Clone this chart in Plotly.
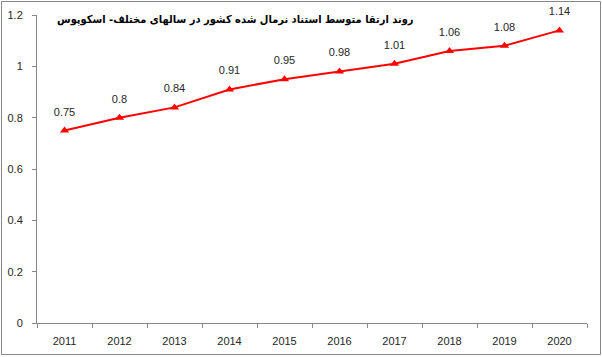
import plotly.graph_objects as go

years = ["2011", "2012", "2013", "2014", "2015", "2016", "2017", "2018", "2019", "2020"]
values = [0.75, 0.8, 0.84, 0.91, 0.95, 0.98, 1.01, 1.06, 1.08, 1.14]
labels = ["0.75", "0.8", "0.84", "0.91", "0.95", "0.98", "1.01", "1.06", "1.08", "1.14"]
title_text = "روند ارتقا متوسط استناد نرمال شده کشور در سالهای مختلف- اسکوپوس"

W, H = 602, 357
L, R, T, B = 37, 15, 15, 34
pw, ph = W - L - R, H - T - B

fig = go.Figure()
fig.add_trace(go.Scatter(
    x=years, y=values, mode="lines+markers",
    line=dict(color="#FF0000", width=2),
    marker=dict(symbol="triangle-up", size=8, color="#FF0000"),
    cliponaxis=False, showlegend=False, hoverinfo="skip",
))
fig.add_trace(go.Scatter(
    x=years, y=values, mode="markers+text",
    text=labels, textposition="top center",
    textfont=dict(family="Liberation Sans, Arial", size=11, color="#262626"),
    marker=dict(size=18, color="rgba(0,0,0,0)"),
    cliponaxis=False, showlegend=False, hoverinfo="skip",
))

fig.update_layout(
    width=W, height=H,
    margin=dict(l=L, r=R, t=T, b=B),
    paper_bgcolor="white", plot_bgcolor="white",
    font=dict(family="Liberation Sans, Arial", size=11, color="#262626"),
    xaxis=dict(type="category", range=[-0.5, 9.5], showgrid=False,
               showline=True, linecolor="#868686", linewidth=1,
               ticks="outside", ticklen=4, tickcolor="#868686",
               tickson="boundaries", zeroline=False, automargin=False,
               ticklabelstandoff=8),
    yaxis=dict(range=[0, 1.2], tickvals=[0, 0.2, 0.4, 0.6, 0.8, 1, 1.2],
               ticktext=["0", "0.2", "0.4", "0.6", "0.8", "1", "1.2"],
               showgrid=False, showline=True, linecolor="#868686", linewidth=1,
               ticks="outside", ticklen=4, tickcolor="#868686", zeroline=False,
               automargin=False, ticklabelstandoff=7),
)

fig.add_annotation(
    text="<b>" + title_text + "</b>", xref="paper", yref="paper",
    x=(235 - L) / pw, y=(H - B - 19) / ph, showarrow=False,
    font=dict(family="DejaVu Sans Condensed, DejaVu Sans", size=11, color="#000000"),
    xanchor="center", yanchor="middle",
)

fig.add_shape(
    type="rect", xref="paper", yref="paper",
    x0=(1.5 - L) / pw, x1=(W - 1.5 - L) / pw,
    y0=(H - B - (H - 2.5)) / ph, y1=(H - B - 1.5) / ph,
    line=dict(color="#868686", width=1), fillcolor="rgba(0,0,0,0)",
    layer="above",
)

fig.write_html("out.html", config={"displayModeBar": False},
               post_script="document.body.style.margin='0';document.body.style.overflow='hidden';")
